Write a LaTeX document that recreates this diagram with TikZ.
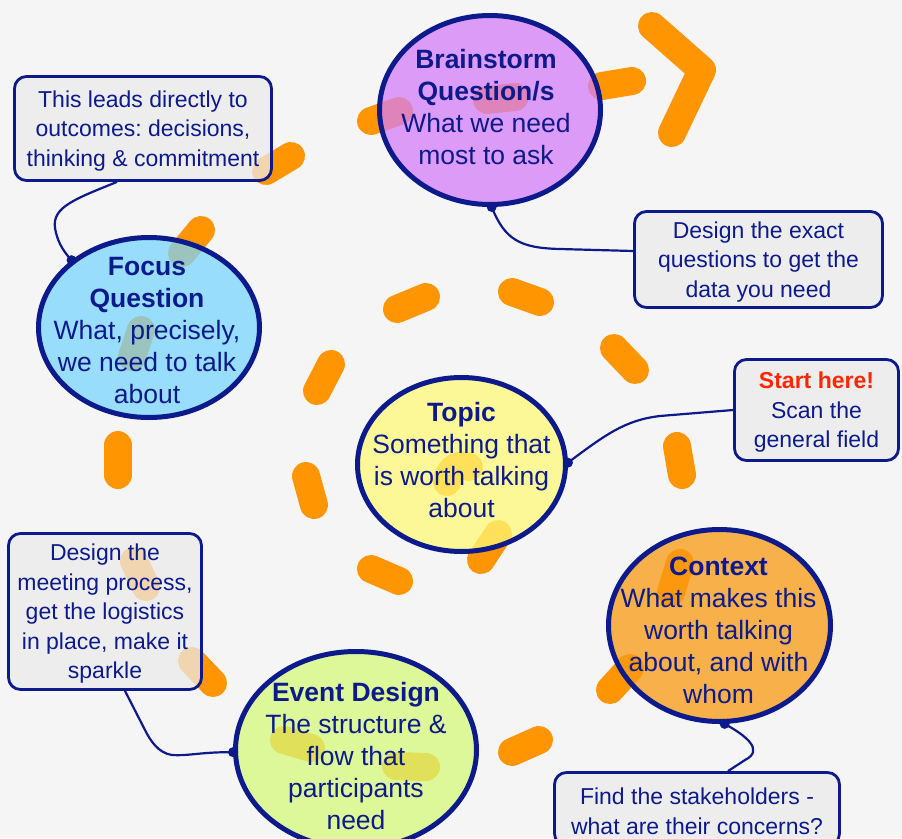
\documentclass[tikz,border=0pt]{standalone}
\usepackage{fontspec}
\setmainfont{Liberation Sans}
\usetikzlibrary{shapes.geometric,calc}
\definecolor{navy}{RGB}{12,26,140}
\definecolor{bgc}{RGB}{245,245,245}
\definecolor{dashc}{RGB}{255,149,0}
\definecolor{purp}{RGB}{213,126,250}
\definecolor{lblue}{RGB}{122,213,254}
\definecolor{lyell}{RGB}{255,250,122}
\definecolor{lorng}{RGB}{250,154,18}
\definecolor{lgreen}{RGB}{214,250,122}
\definecolor{boxc}{RGB}{235,235,235}
\definecolor{redc}{RGB}{255,38,0}
\newcommand\mytopstrut{\rule{0pt}{21pt}}
\frenchspacing
\pgfdeclarelayer{back}
\pgfsetlayers{back,main}
\tikzset{
 orbit/.style={ellipse, draw=navy, line width=5pt, fill opacity=0.75, inner sep=0pt},
 etext/.style={text=navy, align=center, font=\fontsize{26.5}{32}\selectfont, inner sep=0pt},
 note/.style={rectangle, rounded corners=12pt, draw=navy, line width=2.8pt, fill=boxc, fill opacity=0.75, text opacity=1, text=navy, align=center, font=\fontsize{23}{29.5}\selectfont, inner sep=0pt},
 dashseg/.style={draw=dashc, line width=28pt, line cap=round, line join=round},
 link/.style={draw=navy, line width=2.2pt},
}
\begin{document}
\frenchspacing
\begin{tikzpicture}[x=1pt,y=-1pt]
\useasboundingbox (0,0) rectangle (902,838);
\clip (0,0) rectangle (902,838);
% ellipses
\node[orbit, fill=purp, minimum width=221pt, minimum height=189pt] (brain) at (490,110) {};
\node[orbit, fill=lblue, minimum width=221pt, minimum height=180pt] (focus) at (149,327.5) {};
\node[orbit, fill=lyell, minimum width=208pt, minimum height=174pt] (topic) at (461.5,464.5) {};
\node[orbit, fill=lorng, minimum width=222pt, minimum height=192pt] (context) at (719.5,625.5) {};
\node[orbit, fill=lgreen, minimum width=241pt, minimum height=197pt] (event) at (356,750) {};
% ellipse texts
\node[etext] (braint) at ([xshift=-4pt,yshift=3pt]brain.center) {\textbf{Brainstorm}\\\textbf{Question/s}\\What we need\\most to ask};
\node[etext] (focust) at ([xshift=-2pt,yshift=-3pt]focus.center) {\textbf{Focus}\\\textbf{Question}\\What, precisely,\\we need to talk\\about};
\node[etext] (topict) at ([yshift=4.5pt]topic.center) {\textbf{Topic}\\Something that\\is worth talking\\about};
\node[etext] (contextt) at ([xshift=-1pt,yshift=-4.5pt]context.center) {\textbf{Context}\\What makes this\\worth talking\\about, and with\\whom};
\node[etext] (eventt) at ([yshift=-6pt]event.center) {\textbf{Event Design}\\The structure \&\\flow that\\participants\\need};
% notes
\node[note, minimum width=257pt, minimum height=104pt] (box1) at (143,128.5) {\mytopstrut This leads directly to\\outcomes: decisions,\\thinking \& commitment};
\node[note, minimum width=248pt, minimum height=96pt] (box2) at (758.5,259.5) {\mytopstrut Design the exact\\questions to get the\\data you need};
\node[note, minimum width=164pt, minimum height=101pt] (box3) at (816.5,410) {\mytopstrut{\color{redc}\bfseries Start here!}\\Scan the\\general field};
\node[note, minimum width=285pt, minimum height=73pt] (box4) at (697,809) {\mytopstrut Find the stakeholders -\\what are their concerns?};
\node[note, minimum width=193pt, minimum height=156pt] (box5) at (105,611.5) {\mytopstrut Design the\\meeting process,\\get the logistics\\in place, make it\\sparkle};
% spiral dashes
\begin{pgfonlayer}{back}
\fill[bgc] (0,0) rectangle (902,838);
\draw[dashseg] (447,482) .. controls (449,467) and (460,463) .. (469,467);
\draw[dashseg] (498,534) -- (481,560);
\draw[dashseg] (371,569) -- (399,581);
\draw[dashseg] (306,476) -- (314,505);
\draw[dashseg] (331,364) -- (317,391);
\draw[dashseg] (397,309) -- (426,297);
\draw[dashseg] (512,292) -- (540,302);
\draw[dashseg] (614,348) -- (635,370);
\draw[dashseg] (677,446) -- (682,475);
\draw[dashseg] (680,563) -- (671,592);
\draw[dashseg] (630,668) -- (610,690);
\draw[dashseg] (539,740) -- (512,752);
\draw[dashseg] (396,766) -- (426,767);
\draw[dashseg] (284,740) -- (311,748);
\draw[dashseg] (192,661) -- (213,683);
\draw[dashseg] (134,561) -- (146,587);
\draw[dashseg] (118,445) -- (118,475);
\draw[dashseg] (141,330) -- (132,357);
\draw[dashseg] (201,230) -- (182,253);
\draw[dashseg] (291,156) -- (266,171);
\draw[dashseg] (371,121) -- (399,111);
\draw[dashseg] (487,100) -- (515,97);
\draw[dashseg] (602,86) -- (632,81);
\draw[dashseg] (652,26) -- (702,70) -- (672,133);
\end{pgfonlayer}
% connectors
\draw[link] ([xshift=-26pt]box1.south) .. controls (75,199) and (52,207) .. (55,228) .. controls (57,240) and (62,250) .. (focus.139);
\fill[navy] (focus.139) circle (5pt);
\draw[link] (brain.271) .. controls (505,240) and (520,248) .. (560,249) -- ([yshift=8.5pt]box2.west);
\fill[navy] (brain.271) circle (5pt);
\draw[link] (topic.1) .. controls (605,435) and (625,420) .. (660,416) -- (box3.west);
\fill[navy] (topic.1) circle (5pt);
\draw[link] (context.273) .. controls (745,735) and (765,750) .. (745,760) -- ([xshift=31pt]box4.north);
\fill[navy] (context.273) circle (5pt);
\draw[link] (event.181) .. controls (200,752) and (190,756) .. (172,755) .. controls (158,753) and (150,740) .. (145,730) -- ([xshift=20pt]box5.south);
\fill[navy] (event.181) circle (5pt);
\end{tikzpicture}
\end{document}
